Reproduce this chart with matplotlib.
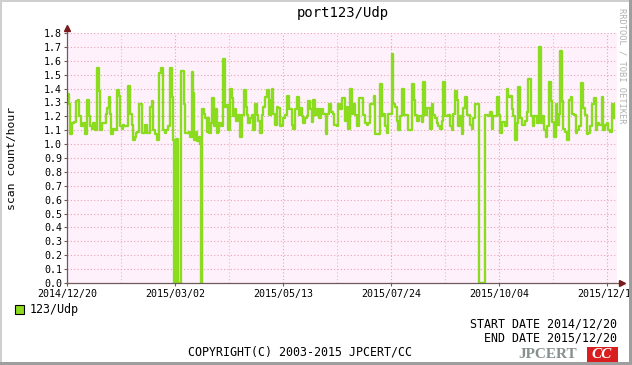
import numpy as np
import matplotlib
matplotlib.use('Agg')
import matplotlib.pyplot as plt
from matplotlib.patches import Rectangle

# data: step change points (days since 2014/12/20) and scan count/hour
days = [0, 1.3, 2.0, 3.3, 4.7, 6.0, 7.3, 8.0, 9.3, 10.7, 12.0, 13.3, 14.4, 15.3, 16.7,
        17.6, 18.7, 20.0, 21.6, 22.2, 23.3, 26.0, 26.9, 27.8, 28.7, 29.6, 30.7, 32.0,
        33.3, 34.7, 35.6, 36.4, 37.3, 38.2, 40.4, 41.8, 43.1, 43.8, 45.1, 46.0, 46.9,
        47.8, 49.8, 52.2, 53.1, 55.3, 56.4, 57.6, 58.7, 59.8, 61.6, 62.9, 64.2, 65.1,
        66.2, 67.3, 68.7, 70.0, 70.9, 71.6, 72.7, 73.8, 75.8, 78.0, 78.7, 81.1, 82.0,
        83.1, 84.2, 84.9, 86.0, 86.9, 87.8, 88.7, 89.3, 90.2, 91.3, 92.2, 93.1, 94.0,
        94.9, 95.8, 96.7, 97.8, 98.7, 99.8, 100.7, 101.6, 102.7, 103.8, 105.6, 106.4,
        107.3, 108.7, 110.0, 110.9, 111.8, 112.7, 114.0, 115.3, 116.9, 117.8, 119.1,
        120.0, 120.9, 122.0, 123.3, 124.2, 125.3, 126.4, 127.6, 128.7, 129.8, 130.9,
        132.0, 133.1, 134.4, 135.8, 136.7, 137.6, 138.7, 139.8, 140.9, 142.0, 143.1,
        144.2, 145.3, 146.4, 147.8, 149.8, 150.9, 152.2, 153.1, 154.4, 155.3, 156.4,
        157.6, 158.7, 159.8, 160.9, 162.0, 163.1, 164.2, 165.3, 166.4, 168.0, 169.3,
        170.9, 172.4, 173.6, 174.7, 175.8, 177.1, 178.0, 179.8, 180.9, 182.0, 183.1,
        185.1, 186.4, 187.6, 188.7, 190.0, 190.9, 192.0, 193.1, 194.9, 197.6, 198.7,
        199.8, 200.9, 202.0, 204.7, 205.3, 208.7, 209.8, 210.9, 212.0, 213.1, 214.2,
        216.4, 217.6, 218.7, 219.8, 220.9, 222.0, 223.1, 224.9, 227.1, 229.8, 231.3,
        232.2, 233.6, 234.9, 236.4, 237.1, 238.7, 239.8, 242.0, 243.1, 244.2, 245.3,
        246.4, 247.6, 248.7, 249.8, 250.9, 252.2, 254.2, 255.3, 256.4, 257.6, 258.7,
        259.8, 260.9, 262.0, 263.1, 264.2, 265.3, 266.4, 268.7, 269.8, 270.9, 272.0,
        274.9, 278.7, 280.9, 282.0, 283.1, 284.2, 286.4, 287.8, 288.7, 289.8, 292.0,
        293.1, 294.2, 295.3, 296.4, 297.6, 298.7, 299.8, 300.9, 302.0, 303.1, 305.3,
        306.4, 307.6, 309.1, 310.4, 311.3, 313.6, 314.4, 315.8, 316.9, 318.0, 319.1,
        320.2, 321.1, 322.4, 323.6, 324.7, 325.8, 326.9, 328.0, 328.7, 329.8, 330.9,
        332.0, 333.1, 334.4, 335.8, 336.9, 338.0, 339.1, 340.2, 341.6, 342.9, 344.2,
        345.3, 346.4, 347.6, 348.7, 349.8, 351.3, 352.7, 353.6, 354.9, 356.4, 357.6,
        358.7, 359.8, 360.9, 362.0, 363.1, 364.7, 365.0]
vals = [1.36, 1.29, 1.07, 1.15, 1.16, 1.31, 1.32, 1.20, 1.13, 1.15, 1.07, 1.32, 1.20, 1.13, 1.11,
        1.15, 1.10, 1.55, 1.38, 1.10, 1.15, 1.22, 1.26, 1.34, 1.22, 1.07, 1.11, 1.10,
        1.39, 1.35, 1.13, 1.11, 1.14, 1.13, 1.42, 1.22, 1.14, 1.03, 1.05, 1.08, 1.09,
        1.29, 1.08, 1.14, 1.08, 1.27, 1.31, 1.10, 1.07, 1.03, 1.51, 1.55, 1.10, 1.08,
        1.10, 1.13, 1.55, 1.34, 1.03, 0.0, 1.04, 0.0, 1.53, 1.29, 1.08, 1.09, 1.05,
        1.52, 1.37, 1.03, 1.09, 1.02, 1.05, 1.00, 0.0, 1.25, 1.22, 1.19, 1.09, 1.19,
        1.08, 1.15, 1.33, 1.13, 1.25, 1.08, 1.09, 1.15, 1.13, 1.61, 1.27, 1.28,
        1.10, 1.40, 1.33, 1.20, 1.25, 1.17, 1.21, 1.05, 1.21, 1.39, 1.27,
        1.21, 1.15, 1.19, 1.21, 1.10, 1.29, 1.21, 1.17, 1.08, 1.21, 1.27,
        1.34, 1.39, 1.21, 1.32, 1.40, 1.22, 1.14, 1.27, 1.26, 1.13, 1.14,
        1.19, 1.21, 1.35, 1.25, 1.14, 1.11, 1.25, 1.34, 1.21, 1.26, 1.20,
        1.15, 1.19, 1.20, 1.31, 1.25, 1.16, 1.32, 1.21, 1.25, 1.19, 1.25,
        1.22, 1.07, 1.22, 1.29, 1.23, 1.22, 1.14, 1.13, 1.29, 1.25, 1.33,
        1.17, 1.27, 1.11, 1.40, 1.22, 1.29, 1.21, 1.13, 1.33, 1.21, 1.15,
        1.14, 1.15, 1.29, 1.35, 1.07, 1.43, 1.20, 1.22, 1.13, 1.08, 1.22,
        1.65, 1.29, 1.27, 1.17, 1.10, 1.20, 1.40, 1.21, 1.10, 1.43, 1.32,
        1.21, 1.17, 1.20, 1.16, 1.45, 1.21, 1.26, 1.11, 1.29, 1.21, 1.19,
        1.15, 1.13, 1.11, 1.17, 1.45, 1.20, 1.21, 1.13, 1.10, 1.22, 1.38,
        1.32, 1.13, 1.20, 1.07, 1.26, 1.34, 1.21, 1.14, 1.11, 1.19, 1.29,
        0.0, 1.21, 1.20, 1.23, 1.11, 1.20, 1.34, 1.21, 1.08, 1.16, 1.13,
        1.40, 1.34, 1.35, 1.25, 1.20, 1.03, 1.15, 1.41, 1.19, 1.14, 1.17,
        1.23, 1.47, 1.20, 1.13, 1.20, 1.15, 1.70, 1.15, 1.20, 1.10, 1.05,
        1.13, 1.45, 1.31, 1.16, 1.05, 1.29, 1.14, 1.22, 1.67, 1.31, 1.11,
        1.09, 1.03, 1.32, 1.34, 1.22, 1.21, 1.08, 1.10, 1.13, 1.44, 1.26,
        1.21, 1.07, 1.08, 1.13, 1.29, 1.33, 1.10, 1.15, 1.14, 1.34, 1.10,
        1.14, 1.15, 1.10, 1.09, 1.29, 1.19, 1.19]

xtick_days = [0, 72, 144, 216, 288, 360]
xtick_labels = ['2014/12/20', '2015/03/02', '2015/05/13', '2015/07/24', '2015/10/04', '2015/12/14']
yticks = np.arange(0, 1.81, 0.1)

W, H = 632, 365
MONO = 'DejaVu Sans Mono'
LINE = '#8BDC1E'
GRID = '#E8A2B4'
AXC = '#6E5A5A'
ARROW = '#7A1A1A'

fig = plt.figure(figsize=(W / 100, H / 100), dpi=100)
fig.patch.set_facecolor('white')

# plot area in pixels: x 67..617, y 33..283
ax = fig.add_axes([67 / W, 1 - 283 / H, 550 / W, 250 / H])
ax.set_facecolor('#FFF1FB')
ax.set_xlim(0, 366.7)
ax.set_ylim(0, 1.8)

ax.step(days, vals, where='post', color=LINE, lw=1.7, zorder=3)

# grid
for d in np.arange(36, 366, 36):
    major = (d % 72 == 0)
    ax.axvline(d, color=GRID if major else '#D8C0CC', lw=0.8, ls=(0, (1, 2)), zorder=1)
for y in yticks[1:]:
    ax.axhline(y, color=GRID, lw=0.8, ls=(0, (1, 2)), zorder=1)

ax.set_xticks(xtick_days)
ax.set_xticklabels(xtick_labels, fontfamily=MONO, fontsize=7.2)
ax.set_yticks(yticks)
ax.set_yticklabels(['%.1f' % v for v in yticks], fontfamily=MONO, fontsize=7.2)
ax.tick_params(axis='both', length=2, width=0.8, color=AXC, pad=1.5)
ax.tick_params(axis='x', pad=2)
for s in ax.spines.values():
    s.set_visible(False)

# axis lines with arrows
ax.plot([0, 0], [0, 1.0 + 5 / 250], transform=ax.transAxes, color=AXC, lw=0.9,
        clip_on=False, zorder=4)
ax.plot([0, 1.0 + 4 / 550], [0, 0], transform=ax.transAxes, color=AXC, lw=0.9,
        clip_on=False, zorder=4)
ax.plot([0], [1.0 + 5 / 250], transform=ax.transAxes, marker='^', ms=4, color=ARROW,
        clip_on=False, zorder=5)
ax.plot([1.0 + 5 / 550], [0], transform=ax.transAxes, marker='>', ms=4, color=ARROW,
        clip_on=False, zorder=5)

# texts
fig.text(343 / W, 1 - 13 / H, 'port123/Udp', ha='center', va='center',
         fontfamily=MONO, fontsize=10)
fig.text(12 / W, 1 - 158 / H, 'scan count/hour', ha='center', va='center',
         rotation=90, fontfamily=MONO, fontsize=8.2)
fig.text(622 / W, 1 - 8 / H, 'RRDTOOL / TOBI OETIKER', ha='center', va='top',
         rotation=270, fontfamily=MONO, fontsize=6.3, color='#B0B0B0')

fig.patches.append(Rectangle((15 / W, 1 - 314 / H), 9 / W, 9 / H, transform=fig.transFigure,
                             facecolor=LINE, edgecolor='black', lw=0.8))
fig.text(30 / W, 1 - 309 / H, '123/Udp', ha='left', va='center',
         fontfamily=MONO, fontsize=8.4)
fig.text(617 / W, 1 - 324 / H, 'START DATE 2014/12/20', ha='right', va='center',
         fontfamily=MONO, fontsize=8.4)
fig.text(617 / W, 1 - 338 / H, 'END DATE 2015/12/20', ha='right', va='center',
         fontfamily=MONO, fontsize=8.4)
fig.text(300 / W, 1 - 352 / H, 'COPYRIGHT(C) 2003-2015 JPCERT/CC', ha='center', va='center',
         fontfamily=MONO, fontsize=8.4)

# logo
fig.text(518 / W, 1 - 355 / H, 'JPCERT', ha='left', va='center', fontfamily='Liberation Serif',
         fontweight='bold', fontsize=11, color='#86908F')
fig.patches.append(Rectangle((587 / W, 1 - 363 / H), 31 / W, 16 / H, transform=fig.transFigure,
                             facecolor='#D81E1E', edgecolor='none'))
fig.text(602 / W, 1 - 355 / H, 'CC', ha='center', va='center', fontfamily='Liberation Serif',
         fontweight='bold', fontstyle='italic', fontsize=11, color='white')

# frame
fig.patches.append(Rectangle((0, 0), 2 / W, 1, transform=fig.transFigure, facecolor='#CFCFCF', edgecolor='none'))
fig.patches.append(Rectangle((0, 1 - 2 / H), 1, 2 / H, transform=fig.transFigure, facecolor='#CFCFCF', edgecolor='none'))
fig.patches.append(Rectangle((1 - 3 / W, 0), 3 / W, 1, transform=fig.transFigure, facecolor='#9E9E9E', edgecolor='none'))
fig.patches.append(Rectangle((0, 0), 1, 3 / H, transform=fig.transFigure, facecolor='#9E9E9E', edgecolor='none'))

fig.savefig('out.png', dpi=100)
